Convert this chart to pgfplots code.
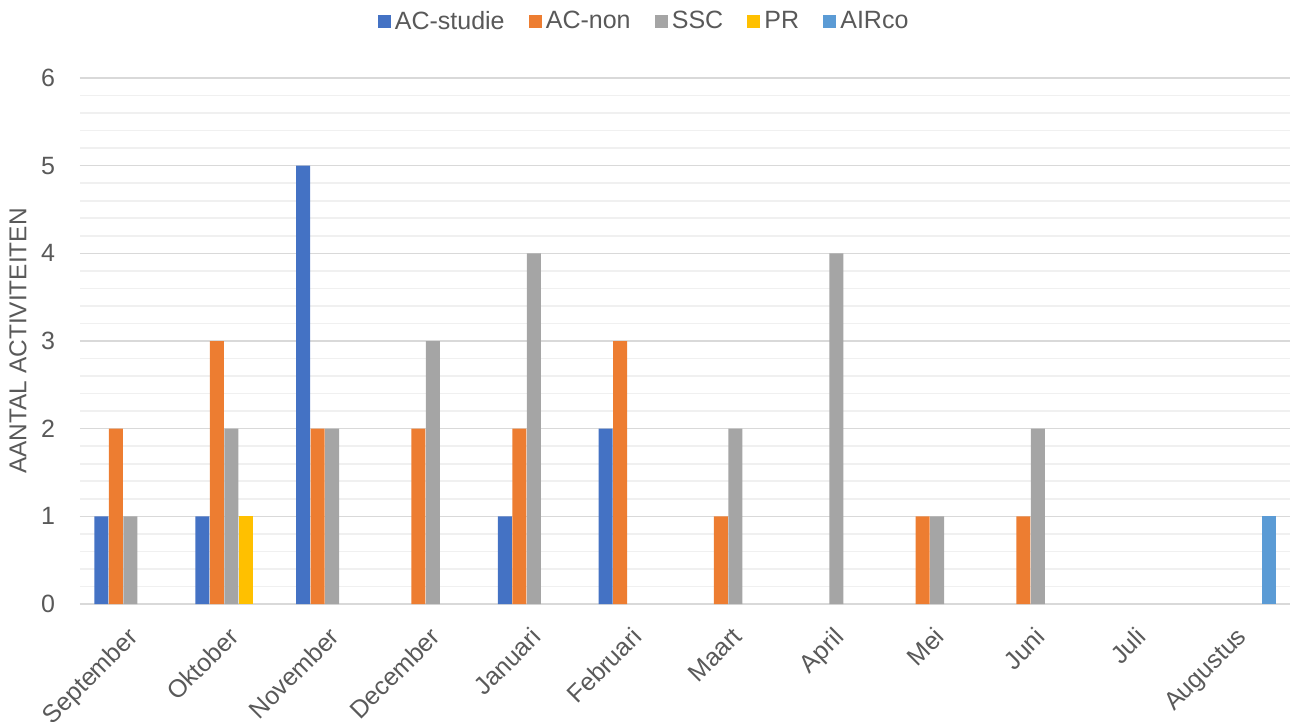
\documentclass[border=0pt]{standalone}
\usepackage{pgfplots}
\pgfplotsset{compat=1.18}
\usepackage{fontspec}
\setmainfont{Liberation Sans}
\definecolor{c1}{HTML}{4472C4}
\definecolor{c2}{HTML}{ED7D31}
\definecolor{c3}{HTML}{A5A5A5}
\definecolor{c4}{HTML}{FFC000}
\definecolor{c5}{HTML}{5B9BD5}
\definecolor{txt}{HTML}{595959}
\definecolor{majgrid}{HTML}{D9D9D9}
\definecolor{mingrid}{HTML}{F0F0F0}
\begin{document}
\begin{tikzpicture}
\useasboundingbox (-40pt,-59pt) rectangle (605pt,302pt);
\begin{axis}[
  scale only axis,
  width=605pt, height=263pt,
  xmin=-0.5, xmax=11.5,
  ymin=0, ymax=6,
  ytick={0,1,...,6},
  minor y tick num=4,
  ymajorgrids, yminorgrids,
  major grid style={majgrid, line width=0.8pt},
  minor grid style={mingrid, line width=0.8pt},
  axis x line*=bottom,
  axis y line*=left,
  y axis line style={draw=none},
  x axis line style={majgrid, line width=0.8pt, -},
  xtick={0,...,11},
  xticklabels={September,Oktober,November,December,Januari,Februari,Maart,April,Mei,Juni,Juli,Augustus},
  major tick length=0pt, minor tick length=0pt,
  xticklabel style={xshift=-2pt, yshift=-6pt, rotate=45, anchor=north east, font=\fontsize{12.5}{14}\selectfont, text=txt},
  yticklabel style={font=\fontsize{12.5}{14}\selectfont, text=txt, xshift=-9pt},
  /pgf/number format/assume math mode=true,
  ylabel={AANTAL ACTIVITEITEN},
  ylabel style={font=\fontsize{12.2}{14}\selectfont, text=txt, at={(axis description cs:-0.0512,0.5)}, anchor=center},
  ybar, bar width=7pt,
  legend style={at={(0.467,1.107)}, anchor=center, draw=none, legend columns=5,
    font=\fontsize{12.5}{14}\selectfont, text=txt, /tikz/every even column/.append style={column sep=10pt}},
  legend image code/.code={\fill[#1] (0pt,-3.3pt) rectangle (6.6pt,3.3pt);},
]
\addplot[fill=c1, draw=none, bar shift=-14.5pt] coordinates {(0,1) (1,1) (2,5) (4,1) (5,2)};
\addplot[fill=c2, draw=none, bar shift=-7.25pt] coordinates {(0,2) (1,3) (2,2) (3,2) (4,2) (5,3) (6,1) (8,1) (9,1)};
\addplot[fill=c3, draw=none, bar shift=0pt] coordinates {(0,1) (1,2) (2,2) (3,3) (4,4) (6,2) (7,4) (8,1) (9,2)};
\addplot[fill=c4, draw=none, bar shift=7.25pt] coordinates {(1,1)};
\addplot[fill=c5, draw=none, bar shift=14.5pt] coordinates {(11,1)};
\legend{AC-studie, AC-non, SSC, PR, AIRco}
\end{axis}
\end{tikzpicture}
\end{document}
